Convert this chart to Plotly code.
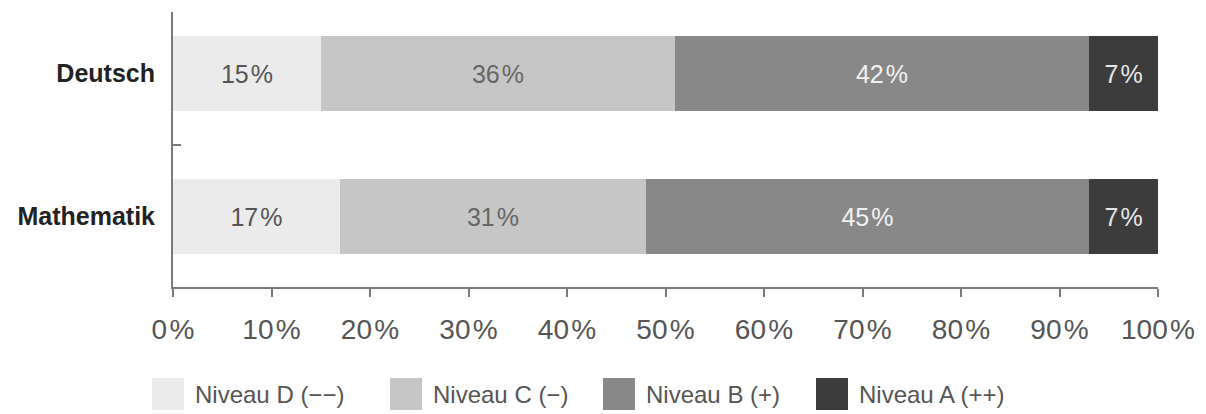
import plotly.graph_objects as go

# Subjects (top to bottom) and the share of pupils per competence level, in %
subjects = ["Deutsch", "Mathematik"]
levels = ["Niveau D (\u2212\u2212)", "Niveau C (\u2212)", "Niveau B (+)", "Niveau A (++)"]
niveau_d = [15, 17]
niveau_c = [36, 31]
niveau_b = [42, 45]
niveau_a = [7, 7]

tick_values = [0, 10, 20, 30, 40, 50, 60, 70, 80, 90, 100]
tick_labels = ["0\u200a%", "10\u200a%", "20\u200a%", "30\u200a%", "40\u200a%", "50\u200a%",
               "60\u200a%", "70\u200a%", "80\u200a%", "90\u200a%", "100\u200a%"]

series = [niveau_d, niveau_c, niveau_b, niveau_a]
fill_colors = ["#ebebeb", "#c6c6c6", "#888888", "#3c3c3c"]
text_colors = ["#555555", "#666666", "#f2f2f2", "#e6e6e6"]

FONT = "'Liberation Sans', Arial, sans-serif"
AXIS_GREY = "#7a7a7a"

fig = go.Figure()
for name, values, fill, tcol in zip(levels, series, fill_colors, text_colors):
    fig.add_trace(go.Bar(
        y=subjects,
        x=values,
        name=name,
        orientation="h",
        width=0.52,
        marker=dict(color=fill, line=dict(width=0)),
        texttemplate="%{x}\u200a%",
        textposition="inside",
        insidetextanchor="middle",
        textangle=0,
        textfont=dict(family=FONT, size=25, color=tcol),
        showlegend=False,
        hoverinfo="skip",
    ))

# Plot area in pixels, used to place the legend row below the axis
L, R, T, B = 173, 1158, 12, 287
W, H = R - L, B - T

def px_x(p):
    return (p - L) / W

def px_y(p):
    return (B - p) / H

# Legend row: square swatch followed by its label
swatch_left = [152, 390, 603, 816]
swatch_size = 32
swatch_top = 378
shapes = []
annotations = []
for name, fill, left in zip(levels, fill_colors, swatch_left):
    shapes.append(dict(
        type="rect", xref="paper", yref="paper",
        x0=px_x(left), x1=px_x(left + swatch_size),
        y0=px_y(swatch_top + swatch_size), y1=px_y(swatch_top),
        fillcolor=fill, line=dict(width=0), layer="above",
    ))
    annotations.append(dict(
        xref="paper", yref="paper",
        x=px_x(left + swatch_size + 9), y=px_y(swatch_top + swatch_size / 2),
        xanchor="left", yanchor="middle",
        text=name, showarrow=False,
        font=dict(family=FONT, size=24, color="#555555"),
    ))

fig.update_layout(
    width=1206, height=414,
    margin=dict(l=L, r=1206 - R, t=T, b=414 - B, pad=0),
    paper_bgcolor="white", plot_bgcolor="white",
    barmode="stack", bargap=0,
    shapes=shapes,
    annotations=annotations,
    xaxis=dict(
        range=[0, 100],
        tickmode="array", tickvals=tick_values, ticktext=tick_labels,
        showgrid=False, zeroline=False,
        showline=True, linecolor=AXIS_GREY, linewidth=2,
        ticks="outside", ticklen=8, tickwidth=2, tickcolor=AXIS_GREY,
        ticklabelstandoff=8,
        tickfont=dict(family=FONT, size=28, color="#555555"),
        automargin=False,
        fixedrange=True,
    ),
    yaxis=dict(
        type="category",
        categoryorder="array", categoryarray=subjects,
        range=[1.493, -0.43],
        showgrid=False, zeroline=False,
        showline=True, linecolor=AXIS_GREY, linewidth=2,
        ticks="inside", tickson="boundaries", ticklen=8, tickwidth=2, tickcolor=AXIS_GREY,
        ticklabelstandoff=11,
        tickfont=dict(family=FONT, size=25, color="#222222", weight="bold"),
        automargin=False,
        fixedrange=True,
    ),
)

fig.write_html("out.html")
